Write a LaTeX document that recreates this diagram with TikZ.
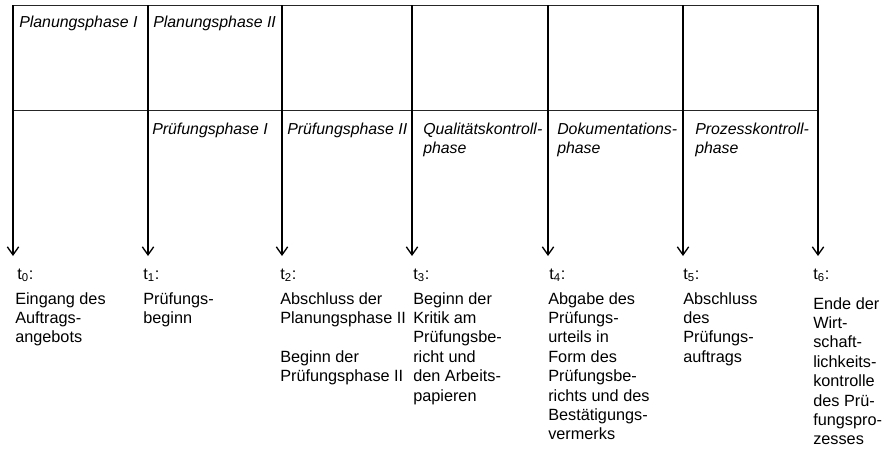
\documentclass[tikz,border=0pt]{standalone}
\usepackage{fontspec}
\setmainfont{Liberation Sans}
\usetikzlibrary{arrows.meta}
\newcommand{\schrift}{\fontsize{12.2}{14.55}\selectfont}
\newcommand{\phasenschrift}{\fontsize{11.9}{14.55}\selectfont\itshape}
\tikzset{
	linie/.style={black!85,line width=.75pt},
	pfeil/.style={black,line width=1pt,-{Straight Barb[length=6pt,width=8.5pt,line width=1pt]}},
	phase/.style={anchor=base west,inner sep=0pt,align=left,font=\phasenschrift},
	zeit/.style={anchor=base west,inner sep=0pt,font=\schrift},
	ereignis/.style={anchor=base west,inner sep=0pt,align=left,font=\schrift}
}
\begin{document}
\begin{tikzpicture}[x=.75pt,y=-.75pt]
	\useasboundingbox (0,0) rectangle (893,450);
	% raster der phasen
	\coordinate (o0) at ( 13,5);   \coordinate (e0) at ( 13,256);
	\coordinate (o1) at (148,5);   \coordinate (e1) at (148,256);
	\coordinate (o2) at (282,5);   \coordinate (e2) at (282,256);
	\coordinate (o3) at (412,5);   \coordinate (e3) at (412,256);
	\coordinate (o4) at (548,5);   \coordinate (e4) at (548,256);
	\coordinate (o5) at (683,5);   \coordinate (e5) at (683,256);
	\coordinate (o6) at (818,5);   \coordinate (e6) at (818,256);
	\coordinate (ml) at ( 13,110); \coordinate (mr) at (818,110);
	\draw[linie] (o0) -- (o6);
	\draw[linie] (ml) -- (mr);
	\draw[pfeil] (o0) -- (e0);
	\draw[pfeil] (o1) -- (e1);
	\draw[pfeil] (o2) -- (e2);
	\draw[pfeil] (o3) -- (e3);
	\draw[pfeil] (o4) -- (e4);
	\draw[pfeil] (o5) -- (e5);
	\draw[pfeil] (o6) -- (e6);
	% phasen (base = letzte zeile)
	\node[phase] (pl1) at ( 19,27) {Planungsphase I};
	\node[phase] (pl2) at (153,27) {Planungsphase II};
	\node[phase] (pr1) at (152,134) {Prüfungsphase I};
	\node[phase] (pr2) at (287,134) {Prüfungsphase II};
	\node[phase] (qk)  at (423,153.4) {Qualitätskontroll-\\phase};
	\node[phase] (dok) at (557,153.4) {Dokumentations-\\phase};
	\node[phase] (pk)  at (695,153.4) {Prozesskontroll-\\phase};
	% zeitpunkte
	\node[zeit] (t0) at ( 17,279) {t\textsubscript{0}:};
	\node[zeit] (t1) at (143,279) {t\textsubscript{1}:};
	\node[zeit] (t2) at (280,279) {t\textsubscript{2}:};
	\node[zeit] (t3) at (413,279) {t\textsubscript{3}:};
	\node[zeit] (t4) at (549,279) {t\textsubscript{4}:};
	\node[zeit] (t5) at (683,279) {t\textsubscript{5}:};
	\node[zeit] (t6) at (813,279) {t\textsubscript{6}:};
	\node[ereignis] (ev0) at ( 15,342.8) {Eingang des\\Auftrags-\\angebots};
	\node[ereignis] (ev1) at (143,323.4) {Prüfungs-\\beginn};
	\node[ereignis] (ev2) at (280,381.6)
		{Abschluss der\\Planungsphase II\\[14.55pt]Beginn der\\Prüfungsphase II};
	\node[ereignis] (ev3) at (413,401)
		{Beginn der\\Kritik am\\Prüfungsbe-\\richt und\\den Arbeits-\\papieren};
	\node[ereignis] (ev4) at (548,439.8)
		{Abgabe des\\Prüfungs-\\urteils in\\Form des\\Prüfungsbe-\\richts und des\\Bestätigungs-\\vermerks};
	\node[ereignis] (ev5) at (683,362.2) {Abschluss\\des\\Prüfungs-\\auftrags};
	\node[ereignis] (ev6) at (813,444.8)
		{Ende der\\Wirt-\\schaft-\\lichkeits-\\kontrolle\\des Prü-\\fungspro-\\zesses};
\end{tikzpicture}
\end{document}
